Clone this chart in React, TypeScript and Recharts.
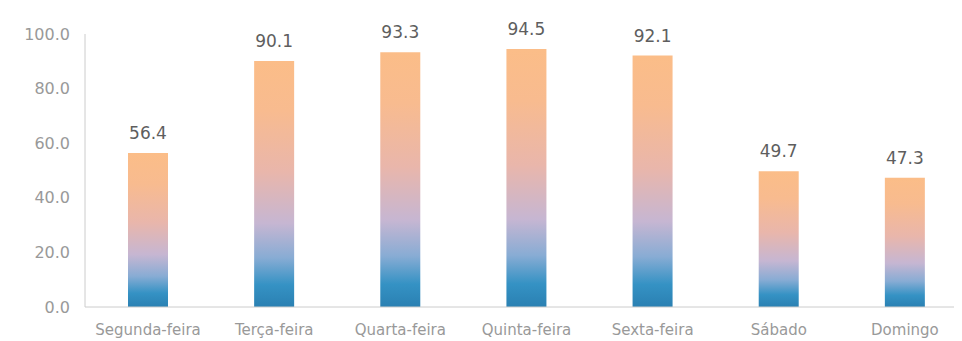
import React from "react";
import { BarChart, Bar, XAxis, YAxis, LabelList } from "recharts";

const days = [
  "Segunda-feira",
  "Terça-feira",
  "Quarta-feira",
  "Quinta-feira",
  "Sexta-feira",
  "Sábado",
  "Domingo",
];
const values = [56.4, 90.1, 93.3, 94.5, 92.1, 49.7, 47.3];
const yTicks = [0, 20, 40, 60, 80, 100];

const data = days.map((day, i) => ({ day, value: values[i] }));

const font = "'DejaVu Sans', sans-serif";

const App: React.FC = () => {
  return (
    <div style={{ width: 954, overflow: "hidden" }}>
      <BarChart
        width={967}
        height={333}
        data={data}
        margin={{ top: 26, right: 7, bottom: 4, left: 0 }}
        barCategoryGap={0}
      >
        <defs>
          {/* blue at the base fading through lavender to orange at the top */}
          <linearGradient id="barFill" x1="0" y1="1" x2="0" y2="0">
            <stop offset="0%" stopColor="#2a80b2" />
            <stop offset="9%" stopColor="#3592c4" />
            <stop offset="20%" stopColor="#88acd4" />
            <stop offset="34%" stopColor="#c6b6d2" />
            <stop offset="55%" stopColor="#e9b6ab" />
            <stop offset="80%" stopColor="#f8bb8f" />
            <stop offset="100%" stopColor="#fbbd88" />
          </linearGradient>
        </defs>
        <XAxis
          dataKey="day"
          axisLine={{ stroke: "#cccccc" }}
          tickLine={false}
          height={30}
          tickMargin={11}
          interval={0}
          tick={{ fill: "#999999", fontSize: 15, fontFamily: font }}
        />
        <YAxis
          domain={[0, 100]}
          ticks={yTicks}
          width={77}
          axisLine={{ stroke: "#cccccc" }}
          tickLine={false}
          tickSize={6}
          tickMargin={9}
          tickFormatter={(v: number) => v.toFixed(1)}
          tick={{ fill: "#999999", fontSize: 16, fontFamily: font }}
        />
        <Bar
          dataKey="value"
          fill="url(#barFill)"
          barSize={40}
          isAnimationActive={false}
        >
          <LabelList
            dataKey="value"
            position="top"
            offset={14}
            formatter={(v: number) => v.toFixed(1)}
            style={{ fill: "#5e5e5e", fontSize: 17, fontFamily: font }}
          />
        </Bar>
      </BarChart>
    </div>
  );
};

export default App;
